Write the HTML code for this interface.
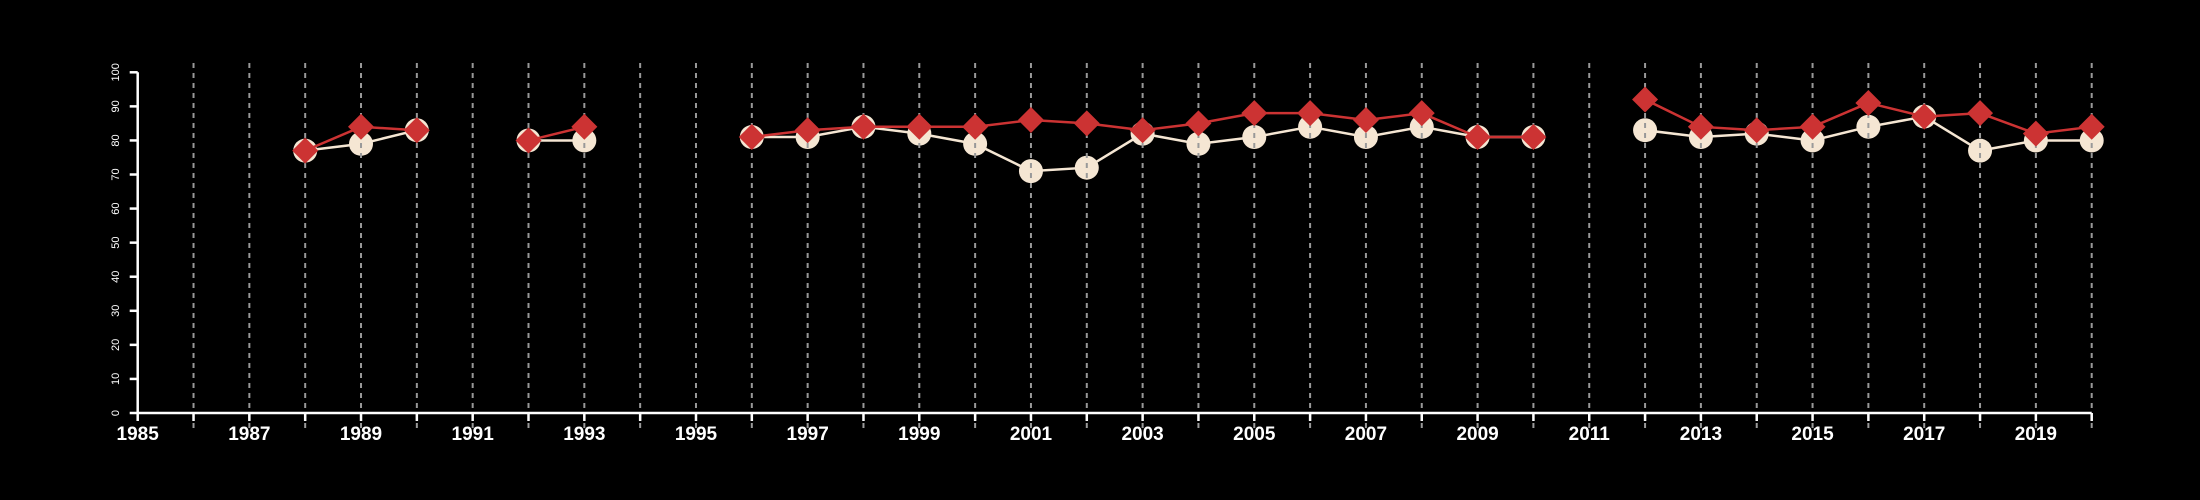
<!DOCTYPE html>
<html><head><meta charset="utf-8"><style>
html,body{margin:0;padding:0;background:#000;}
svg{display:block;}
text{font-family:"Liberation Sans",sans-serif;fill:#fff;}
</style></head><body>
<svg id="chart" width="2200" height="500" viewBox="0 0 2200 500" xmlns="http://www.w3.org/2000/svg">
<rect width="2200" height="500" fill="#000"/>
<g id="gWhite"></g>
<g id="gGrid"></g>
<g id="gRed"></g>
<g id="gAxes"></g>
</svg>
<script>
const years = [1988,1989,1990,1992,1993,1996,1997,1998,1999,2000,2001,2002,2003,2004,2005,2006,2007,2008,2009,2010,2012,2013,2014,2015,2016,2017,2018,2019,2020];
const whiteValues = [77,79,83,80,80,81,81,84,82,79,71,72,82,79,81,84,81,84,81,81,83,81,82,80,84,87,77,80,80];
const redValues = [77,84,83,80,84,81,83,84,84,84,86,85,83,85,88,88,86,88,81,81,92,84,83,84,91,87,88,82,84];
const yTicks = [0,10,20,30,40,50,60,70,80,90,100];
const xMin = 1985, xMax = 2020;

const NS = "http://www.w3.org/2000/svg";
const x0 = 137.7, x1 = 2091.7, yBase = 413, yTop = 72.3;
function sx(v){ return x0 + (v - xMin) / (xMax - xMin) * (x1 - x0); }
function sy(v){ return yBase - v / 100 * (yBase - yTop); }
function mk(tag, attrs, parent){
  const e = document.createElementNS(NS, tag);
  for (const k in attrs) e.setAttribute(k, attrs[k]);
  parent.appendChild(e);
  return e;
}
function segments(vals){
  const segs = []; let cur = [];
  for (let i = 0; i < years.length; i++){
    if (i > 0 && years[i] - years[i-1] > 1){ segs.push(cur); cur = []; }
    cur.push([sx(years[i]), sy(vals[i])]);
  }
  segs.push(cur);
  return segs;
}
const gW = document.getElementById('gWhite');
const gG = document.getElementById('gGrid');
const gR = document.getElementById('gRed');
const gA = document.getElementById('gAxes');

segments(whiteValues).forEach(s => {
  const p = mk('polyline', {points: s.map(q => q.join(',')).join(' '), fill: 'none', stroke: '#f5e6d3', 'stroke-width': 2.5}, gW);
  
  
});
years.forEach((y, i) => {
  const c = mk('circle', {cx: sx(y), cy: sy(whiteValues[i]), r: 12, fill: '#f5e6d3'}, gW);
  
  
});
for (let y = xMin + 1; y <= xMax; y++){
  const l = mk('line', {x1: sx(y), x2: sx(y), y1: 63, y2: 428, stroke: '#999', 'stroke-width': 2, 'stroke-dasharray': '5,5'}, gG);
  
  
}
segments(redValues).forEach(s => {
  const p = mk('polyline', {points: s.map(q => q.join(',')).join(' '), fill: 'none', stroke: '#cc3333', 'stroke-width': 2.5}, gR);
  
  
});
years.forEach((y, i) => {
  const cx = sx(y), cy = sy(redValues[i]), d = 13;
  const p = mk('polygon', {points: `${cx},${cy-d} ${cx+d},${cy} ${cx},${cy+d} ${cx-d},${cy}`, fill: '#cc3333'}, gR);
  
  
});
// axes
let a = mk('line', {x1: x0, x2: x1, y1: yBase, y2: yBase, stroke: '#fff', 'stroke-width': 2.5}, gA);


a = mk('line', {x1: x0, x2: x0, y1: yBase, y2: yTop, stroke: '#fff', 'stroke-width': 2.5}, gA);


for (let y = xMin; y <= xMax; y++){
  const t = mk('line', {x1: sx(y), x2: sx(y), y1: yBase, y2: yBase + 8, stroke: '#fff', 'stroke-width': 2.5}, gA);
  
  
  if ((y - xMin) % 2 === 0){
    const tx = mk('text', {x: sx(y), y: 440, 'text-anchor': 'middle', 'font-size': 19, 'font-weight': 'bold'}, gA);
    tx.textContent = y;
    
    
  }
}
yTicks.forEach(v => {
  const t = mk('line', {x1: x0 - 8, x2: x0, y1: sy(v), y2: sy(v), stroke: '#fff', 'stroke-width': 2.5}, gA);
  
  
  const tx = mk('text', {x: 0, y: 0, transform: `translate(119,${sy(v)}) rotate(-90)`, 'text-anchor': 'middle', 'font-size': 11}, gA);
  tx.textContent = v;
  
  
});
</script>
</body></html>
